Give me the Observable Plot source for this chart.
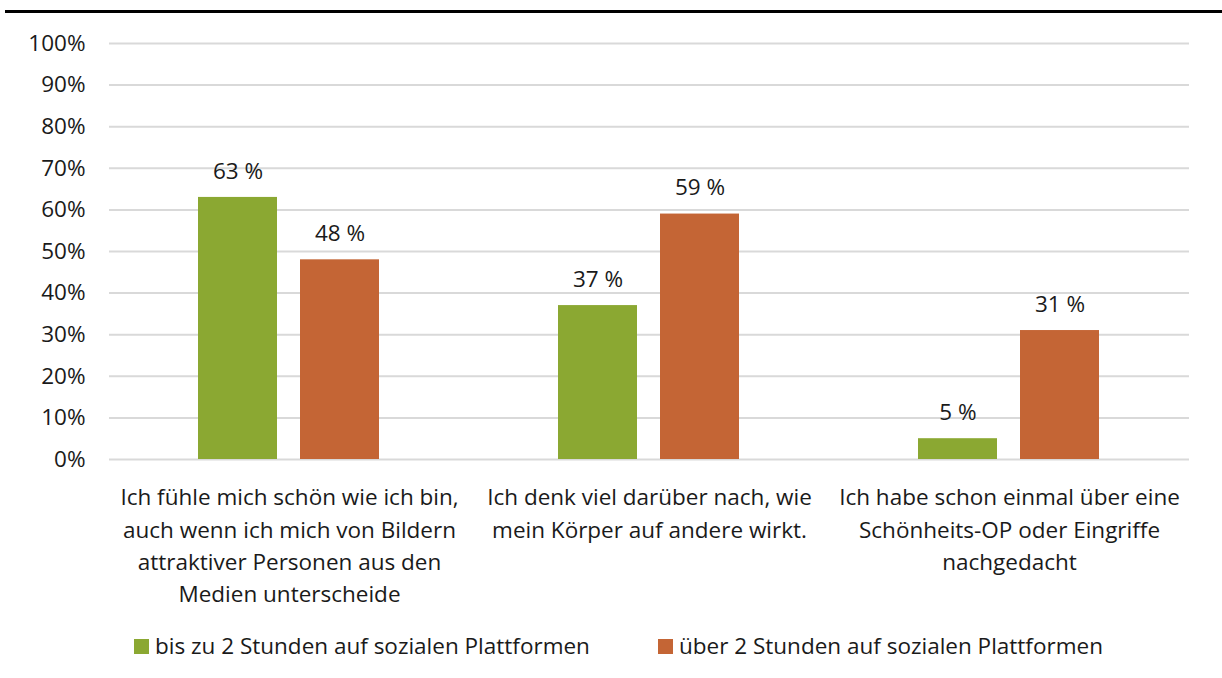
<!DOCTYPE html>
<html>
<head>
<meta charset="utf-8">
<script src="https://cdn.jsdelivr.net/npm/d3@7"></script>
<script src="https://cdn.jsdelivr.net/npm/@observablehq/plot@0.6"></script>
<style>
  html, body { margin: 0; padding: 0; background: #fff; }
  body { width: 1222px; height: 678px; position: relative; overflow: hidden; font-family: "Open Sans", sans-serif; color: #000; }
  #topline { position: absolute; left: 5px; top: 10px; width: 1217px; height: 3px; background: #000; }
  #chart { position: absolute; left: 0; top: 13px; }
  .leg { position: absolute; top: 631px; font-size: 22.5px; line-height: 30px; display: flex; align-items: center; white-space: nowrap; color: #1a1a1a; }
  .sw { width: 15px; height: 15px; margin-right: 6px; display: inline-block; }
</style>
</head>
<body>
<div id="topline"></div>
<div id="chart"></div>
<div class="leg" id="leg0" style="left:134px"></div>
<div class="leg" id="leg1" style="left:658px"></div>
<script>
const categories = [
  "Ich fühle mich schön wie ich bin,\nauch wenn ich mich von Bildern\nattraktiver Personen aus den\nMedien unterscheide",
  "Ich denk viel darüber nach, wie\nmein Körper auf andere wirkt.",
  "Ich habe schon einmal über eine\nSchönheits-OP oder Eingriffe\nnachgedacht"
];
const seriesNames = ["bis zu 2 Stunden auf sozialen Plattformen", "über 2 Stunden auf sozialen Plattformen"];
const seriesColors = ["#8BA832", "#C46535"];
const valuesShort = [63, 37, 5];
const valuesLong = [48, 59, 31];
const yTicks = [0, 10, 20, 30, 40, 50, 60, 70, 80, 90, 100];

const data = [];
categories.forEach((c, i) => {
  data.push({cat: c, series: seriesNames[0], value: valuesShort[i]});
  data.push({cat: c, series: seriesNames[1], value: valuesLong[i]});
});

const font = "Open Sans, sans-serif";
const fs = 22.5;
const chart = Plot.plot({
  width: 1222,
  height: 610,
  marginTop: 30,
  marginBottom: 164,
  marginLeft: 108,
  marginRight: 32,
  style: {fontFamily: font, fontSize: fs + "px", color: "#1a1a1a", background: "transparent"},
  fx: {domain: categories, padding: 0, axis: null},
  x: {domain: seriesNames, paddingInner: 0.223, paddingOuter: 0.867, axis: null},
  y: {domain: [0, 100], axis: null},
  color: {domain: seriesNames, range: seriesColors},
  marks: [
    Plot.ruleY(yTicks, {stroke: "#d9d9d9", strokeWidth: 2}),
    Plot.axisY({ticks: yTicks, tickSize: 0, tickPadding: 24, tickFormat: d => d + "%", fontSize: fs, anchor: "left", label: null}),
    Plot.barY(data, {fx: "cat", x: "series", y: "value", fill: "series"}),
    Plot.text(data, {fx: "cat", x: "series", y: "value", text: d => d.value + " %", dy: -26, fontSize: fs, fill: "#1a1a1a"}),
    Plot.text(categories, {fx: d => d, text: d => d, frameAnchor: "bottom", lineAnchor: "top", dy: 23, lineHeight: 1.43, fontSize: fs, fill: "#1a1a1a"})
  ]
});
document.getElementById("chart").appendChild(chart);

seriesNames.forEach((s, i) => {
  const el = document.getElementById("leg" + i);
  const sw = document.createElement("span");
  sw.className = "sw";
  sw.style.background = seriesColors[i];
  el.appendChild(sw);
  el.appendChild(document.createTextNode(s));
});
</script>
</body>
</html>
